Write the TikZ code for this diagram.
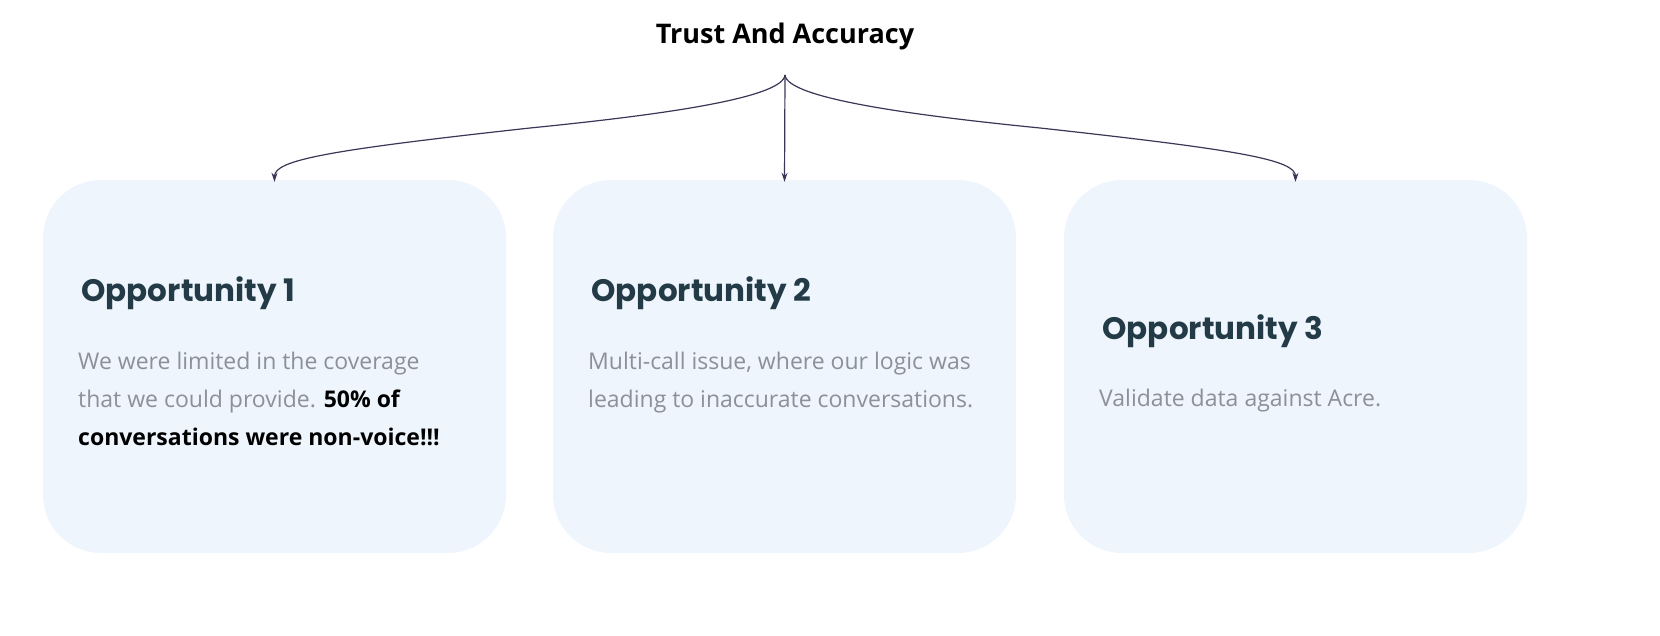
\documentclass[tikz,border=0pt]{standalone}
\usepackage{fontspec}
\setmainfont{Open Sans}
\newfontfamily\headfont{Poppins}
\usetikzlibrary{arrows.meta,positioning}
\definecolor{boxfill}{HTML}{EEF5FD}
\definecolor{headcol}{HTML}{233B47}
\definecolor{bodycol}{HTML}{8B9099}
\definecolor{linkcol}{HTML}{3A3656}
\tikzset{
  opbox/.style={fill=boxfill, draw=none, rounded corners=58pt, minimum width=463pt, minimum height=373pt},
  optitle/.style={anchor=base west, text=headcol, font=\headfont\fontsize{31}{38}\selectfont\bfseries},
  optext/.style={anchor=north west, align=flush left, text width=385pt, inner sep=0pt, text=bodycol,
    font=\fontsize{23}{38}\selectfont, execute at begin node={\hyphenpenalty=10000\relax}},
  link/.style={linkcol, line width=1.2pt, -{Stealth[length=9pt,width=6pt]}}
}
\begin{document}
\begin{tikzpicture}[x=1pt,y=-1pt]
  \useasboundingbox (0,0) rectangle (1660,636);
  \node[font=\fontsize{27}{34}\selectfont\bfseries] (title) at (785,36) {Trust And Accuracy};
  \coordinate (fork) at (785,75);

  % the three boxes
  \node[opbox] (box1) at (274.5,366.5) {};
  \node[opbox] (box2) at (784.5,366.5) {};
  \node[opbox] (box3) at (1295.5,366.5) {};

  \node[optitle] (head1) at (78,302) {Opportunity 1};
  \node[optitle] (head2) at (588,302) {Opportunity 2};
  \node[optitle] (head3) at (1099,339) {Opportunity 3};

  \node[optext] (text1) at (78,352) {We were limited in the coverage that we could provide. \textcolor{black}{\bfseries 50\% of conversations were non-voice!!!}};
  \node[optext] (text2) at (588,352) {Multi-call issue, where our logic was leading to inaccurate conversations.};
  \node[optext] (text3) at (1099,389) {Validate data against Acre.};

  % connectors
  \coordinate (midL) at (530,128);
  \coordinate (midR) at (1040,128);
  \draw[link] (fork) .. controls +(-2,24) and +(120,-12) .. (midL)
              .. controls +(-200,22) and +(0,-22) .. ([yshift=-2pt]box1.north);
  \draw[link] (fork) -- ([yshift=-2pt]box2.north);
  \draw[link] (fork) .. controls +(2,24) and +(-120,-12) .. (midR)
              .. controls +(200,22) and +(0,-22) .. ([yshift=-2pt]box3.north);
\end{tikzpicture}
\end{document}
